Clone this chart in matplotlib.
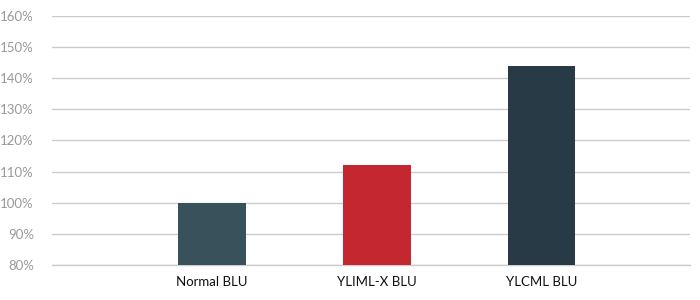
import matplotlib
matplotlib.use("Agg")
import matplotlib.pyplot as plt
from matplotlib.ticker import FuncFormatter

categories = ["Normal BLU", "YLIML-X BLU", "YLCML BLU"]
values = [100, 112, 144]
colors = ["#38515b", "#c4272f", "#273a45"]

plt.rc("font", family=["Lato", "DejaVu Sans"], size=9)

fig = plt.figure(figsize=(7, 3), dpi=100)
ax = fig.add_axes([0.0743, 0.1167, 0.9114, 0.83])

x = range(len(categories))
ax.bar(x, [v - 80 for v in values], 0.41, bottom=80, color=colors, zorder=3)

ax.set_ylim(80, 160)
ax.set_yticks(range(80, 161, 10))
ax.yaxis.set_major_formatter(FuncFormatter(lambda v, _: f"{v:.0f}%"))
ax.set_xlim(-0.97, 2.9)
ax.set_xticks(list(x))
ax.set_xticklabels(categories, color="#111111", fontsize=9.5)

ax.grid(axis="y", color="#cccccc", linewidth=1, zorder=0)
for s in ax.spines.values():
    s.set_visible(False)
ax.spines["bottom"].set_visible(True)
ax.spines["bottom"].set_color("#cccccc")
ax.spines["bottom"].set_linewidth(1)
ax.tick_params(axis="both", length=0)
ax.tick_params(axis="y", colors="#999999", labelsize=9.5, pad=13)
ax.tick_params(axis="x", pad=8)

fig.savefig("out.png", dpi=100)
